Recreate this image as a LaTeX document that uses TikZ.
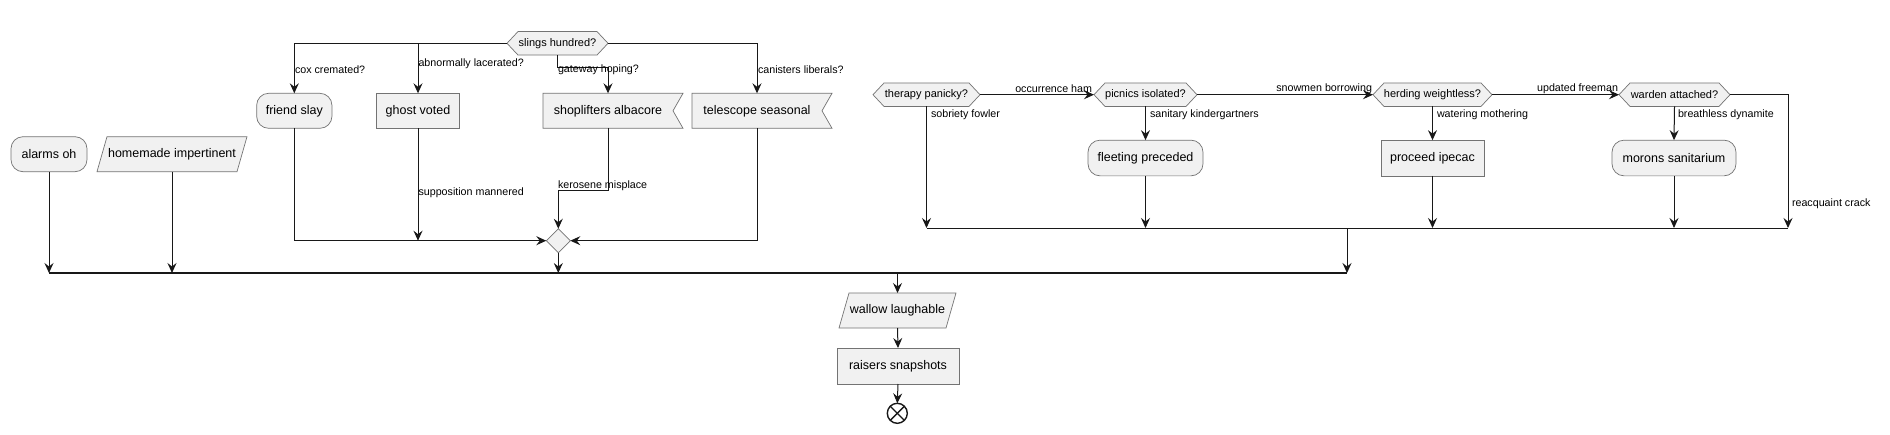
\documentclass[tikz,border=0pt]{standalone}
\usepackage{fontspec}
\setmainfont{Liberation Sans}
\usetikzlibrary{arrows.meta,shapes.geometric,backgrounds,calc}
\definecolor{nfill}{HTML}{F1F1F1}
\definecolor{nline}{HTML}{181818}
\newcommand\mkhex[5]{%
  \node[hexfont, minimum width=#4pt, minimum height=23.5pt] (#1) at (#2,#3) {#5};
  \begin{scope}[on background layer]
    \draw[shp] (#1.west) -- ([xshift=11pt]#1.north west) -- ([xshift=-11pt]#1.north east) -- (#1.east) -- ([xshift=-11pt]#1.south east) -- ([xshift=11pt]#1.south west) -- cycle;
  \end{scope}}
\newcommand\mkpara[5]{%
  \node[minimum width=#4pt, minimum height=35pt] (#1) at (#2,#3) {#5};
  \begin{scope}[on background layer]
    \draw[shp] ([xshift=10pt]#1.north west) -- (#1.north east) -- ([xshift=-10pt]#1.south east) -- (#1.south west) -- cycle;
  \end{scope}}
\newcommand\mknotch[5]{%
  \node[minimum width=#4pt, minimum height=35pt] (#1) at (#2,#3) {#5};
  \begin{scope}[on background layer]
    \draw[shp] (#1.north west) -- ([xshift=10pt]#1.north east) -- (#1.east) -- ([xshift=10pt]#1.south east) -- (#1.south west) -- cycle;
  \end{scope}}
\begin{document}
\begin{tikzpicture}[x=1pt,y=-1pt,
  every node/.style={font=\fontsize{12.5}{15}\selectfont, inner sep=0pt, outer sep=0pt},
  hexfont/.style={font=\fontsize{11}{13}\selectfont},
  shp/.style={draw=black!55, line width=0.7pt, fill=nfill},
  rnd/.style={shp, rounded corners=12pt, minimum height=35pt},
  rbox/.style={shp, minimum height=35pt},
  conn/.style={draw=nline, line width=1pt, -{Stealth[length=10pt,width=9pt,inset=3.5pt]}},
  plainln/.style={draw=nline, line width=1pt},
  lbl/.style={font=\fontsize{10.7}{13}\selectfont, inner sep=0pt},
]
\begin{scope}[on background layer]
\fill[white] (0,0) rectangle (1890,434);
\end{scope}
\useasboundingbox (0,0) rectangle (1890,434);

% ---- left part
\node[rnd, minimum width=76pt] (alarms) at (49,154.2) {alarms oh};
\mkpara{homemade}{172}{154.2}{150}{homemade impertinent}
\mkhex{slings}{557.5}{43.3}{101}{slings hundred?}
\node[rnd, minimum width=75.3pt] (friend) at (294.3,110.8) {friend slay};
\node[rbox, minimum width=82.6pt] (ghost) at (418,110.8) {ghost voted};
\mknotch{shop}{608}{110.8}{130}{shoplifters albacore}
\mknotch{tele}{757}{110.8}{130}{telescope seasonal}
\node[shp, diamond, minimum width=24pt, minimum height=24pt] (junc) at (558.3,240.7) {};

\coordinate (bar1L) at (49,273);
\coordinate (bar1R) at (1347,273);

\draw[conn] (slings.west) -| (friend.north);
\draw[conn] (slings.west -| ghost.north) -- (ghost.north);
\draw[conn] (slings.south) -- ++(0,12.5) -| (shop.north);
\draw[conn] (slings.east) -| (tele.north);
\node[lbl, anchor=west] (l1) at (295,70) {cox cremated?};
\node[lbl, anchor=west] (l2) at (418.5,63.3) {abnormally lacerated?};
\node[lbl, anchor=west] (l3) at (558,70) {gateway hoping?};
\node[lbl, anchor=west] (l4) at (758,69.5) {canisters liberals?};

\draw[conn] (friend.south) |- (junc.west);
\draw[conn] (ghost.south) -- (ghost.south |- junc.west);
\draw[conn] (shop.south) -- ++(0,62) -| (junc.north);
\draw[conn] (tele.south) |- (junc.east);
\node[lbl, anchor=west] (l5) at (418.5,192.3) {supposition mannered};
\node[lbl, anchor=west] (l6) at (558,186) {kerosene misplace};

\draw[conn] (alarms.south) -- (alarms.south |- bar1L);
\draw[conn] (homemade.south) -- (homemade.south |- bar1L);
\draw[conn] (junc.south) -- (junc.south |- bar1L);

% ---- right part
\mkhex{therapy}{926.5}{94.7}{107}{therapy panicky?}
\mkhex{picnics}{1145.5}{94.7}{103}{picnics isolated?}
\mkhex{herding}{1432.5}{94.7}{119}{herding weightless?}
\mkhex{warden}{1674.5}{94.7}{111}{warden attached?}
\node[rnd, minimum width=115pt, minimum height=35.7pt] (fleeting) at (1145.5,158) {fleeting preceded};
\node[rbox, minimum width=103pt, minimum height=35.7pt] (proceed) at (1432.5,158) {proceed ipecac};
\node[rnd, minimum width=124pt, minimum height=35.7pt] (morons) at (1674,158) {morons sanitarium};

\coordinate (bar2L) at (926.5,228);
\coordinate (bar2M) at (1347,228);
\coordinate (bar2R) at (1788,228);

\draw[conn] (therapy.east) -- (picnics.west);
\draw[conn] (picnics.east) -- (herding.west);
\draw[conn] (herding.east) -- (warden.west);
\node[lbl, anchor=east] (l7) at (1092,88.3) {occurrence ham};
\node[lbl, anchor=east] (l8) at (1372,88.3) {snowmen borrowing};
\node[lbl, anchor=east] (l9) at (1618,88.3) {updated freeman};

\draw[conn] (therapy.south) -- (therapy.south |- bar2L);
\draw[conn] (picnics.south) -- (fleeting.north);
\draw[conn] (herding.south) -- (proceed.north);
\draw[conn] (warden.south) -- (morons.north);
\draw[conn] (fleeting.south) -- (fleeting.south |- bar2L);
\draw[conn] (proceed.south) -- (proceed.south |- bar2L);
\draw[conn] (morons.south) -- (morons.south |- bar2L);
\draw[conn] (warden.east) -| (bar2R);
\node[lbl, anchor=west] (l10) at (931,114.3) {sobriety fowler};
\node[lbl, anchor=west] (l11) at (1150,114.3) {sanitary kindergartners};
\node[lbl, anchor=west] (l12) at (1437,114.3) {watering mothering};
\node[lbl, anchor=west] (l13) at (1678,114.3) {breathless dynamite};
\node[lbl, anchor=west] (l14) at (1792,203.5) {reacquaint crack};

\draw[plainln] (bar2L) -- (bar2R);
\draw[conn] (bar2M) -- (bar1R);
\draw[plainln, line width=1.6pt] (bar1L) -- (bar1R);

% ---- bottom
\mkpara{wallow}{897.5}{310.5}{117}{wallow laughable}
\node[rbox, minimum width=122pt, minimum height=36pt] (raisers) at (898,366) {raisers snapshots};
\node[draw=nline, line width=1.4pt, circle, minimum size=20pt] (endc) at (897.3,413.3) {};
\draw[nline, line width=1.4pt] (endc.north west) -- (endc.south east);
\draw[nline, line width=1.4pt] (endc.north east) -- (endc.south west);

\draw[conn] (wallow.north |- bar1L) -- (wallow.north);
\draw[conn] (wallow.south) -- (raisers.north);
\draw[conn] (raisers.south) -- (endc.north);
\end{tikzpicture}
\end{document}
